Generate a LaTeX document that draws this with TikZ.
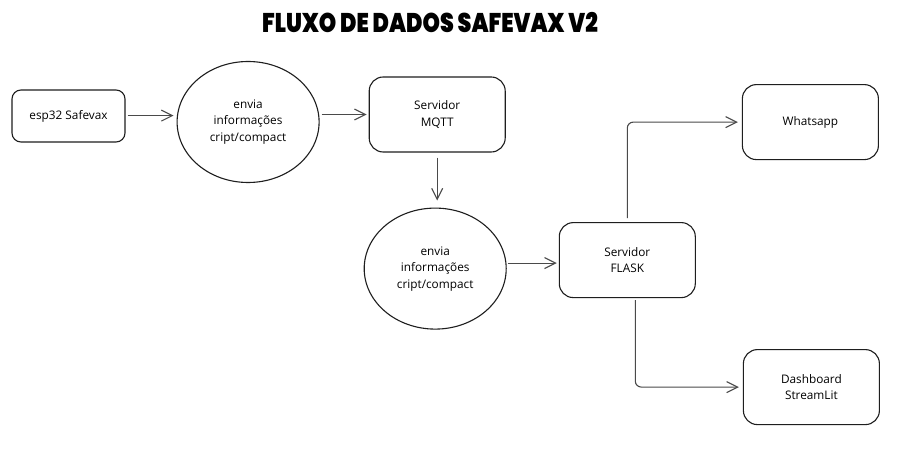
\documentclass[tikz,border=0pt]{standalone}
\usepackage{fontspec}
\setmainfont{Open Sans}
\newfontfamily\titlefont{Poppins}[BoldFont={Poppins Black}]
\usetikzlibrary{shapes.geometric, arrows.meta, positioning}
\definecolor{lineGray}{HTML}{1E1E1E}
\definecolor{arrowGray}{HTML}{4A4A4A}
\tikzset{font=\fontsize{11.8}{16.5}\selectfont}
\tikzstyle{device} = [rectangle, rounded corners=9pt, minimum width=113pt,%
minimum height=52pt, text centered, draw=lineGray, line width=1.1pt]
\tikzstyle{server} = [rectangle, rounded corners=14pt, minimum width=136pt,%
minimum height=75pt, text centered, align=center, draw=lineGray, line width=1.1pt]
\tikzstyle{send} = [ellipse, minimum width=142pt, minimum height=121pt,%
inner sep=0pt, align=center, draw=lineGray, line width=1.1pt]
\tikzstyle{arrow} = [line width=1.1pt, draw=arrowGray, rounded corners=6pt,%
-{Straight Barb[length=11pt,width=11pt,line width=1.1pt]}]

\begin{document}
\begin{tikzpicture}[node distance=50pt]
    \path[use as bounding box, fill=white] (0,0) rectangle (903pt,-449pt);

    \node (title) at (430pt,-22.5pt) {\titlefont\bfseries\fontsize{27}{30}\selectfont%
      \scalebox{0.82}[1]{FLUXO DE DADOS SAFEVAX V2}};

    \node (esp) [device] at (68.5pt,-116pt) {esp32 Safevax};
    \node (send1) [send, right=51pt of esp, yshift=-6pt] {envia\\informações\\cript/compact};
    \node (mqtt) [server, right=49pt of send1, yshift=7.5pt] {Servidor\\MQTT};
    \node (send2) [send, below=55pt of mqtt, xshift=-2pt] {envia\\informações\\cript/compact};
    \node (flask) [server, right=52pt of send2, yshift=8.5pt] {Servidor\\FLASK};
    \node (whats) [server, right=46pt of flask, yshift=138pt] {Whatsapp};
    \node (dash) [server, right=47pt of flask, yshift=-127pt] {Dashboard\\StreamLit};

    \draw [arrow, shorten <=2pt, shorten >=3pt] ([yshift=0.4pt]esp.east) -- ([yshift=0.4pt]esp.east -| send1.west);
    \draw [arrow, shorten <=2pt, shorten >=2pt] (mqtt.west -| send1.east) -- (mqtt.west);
    \draw [arrow, shorten <=5pt, shorten >=7pt] (mqtt.south) -- (mqtt.south |- send2.north);
    \draw [arrow, shorten <=1pt, shorten >=2pt] ([yshift=-3pt]flask.west -| send2.east) -- ([yshift=-3pt]flask.west);
    \draw [arrow, shorten <=4pt, shorten >=4pt] (flask.north) |- (whats.west);
    \draw [arrow, shorten <=2pt, shorten >=4pt] ([xshift=8pt]flask.south) |- (dash.west);
\end{tikzpicture}
\end{document}
